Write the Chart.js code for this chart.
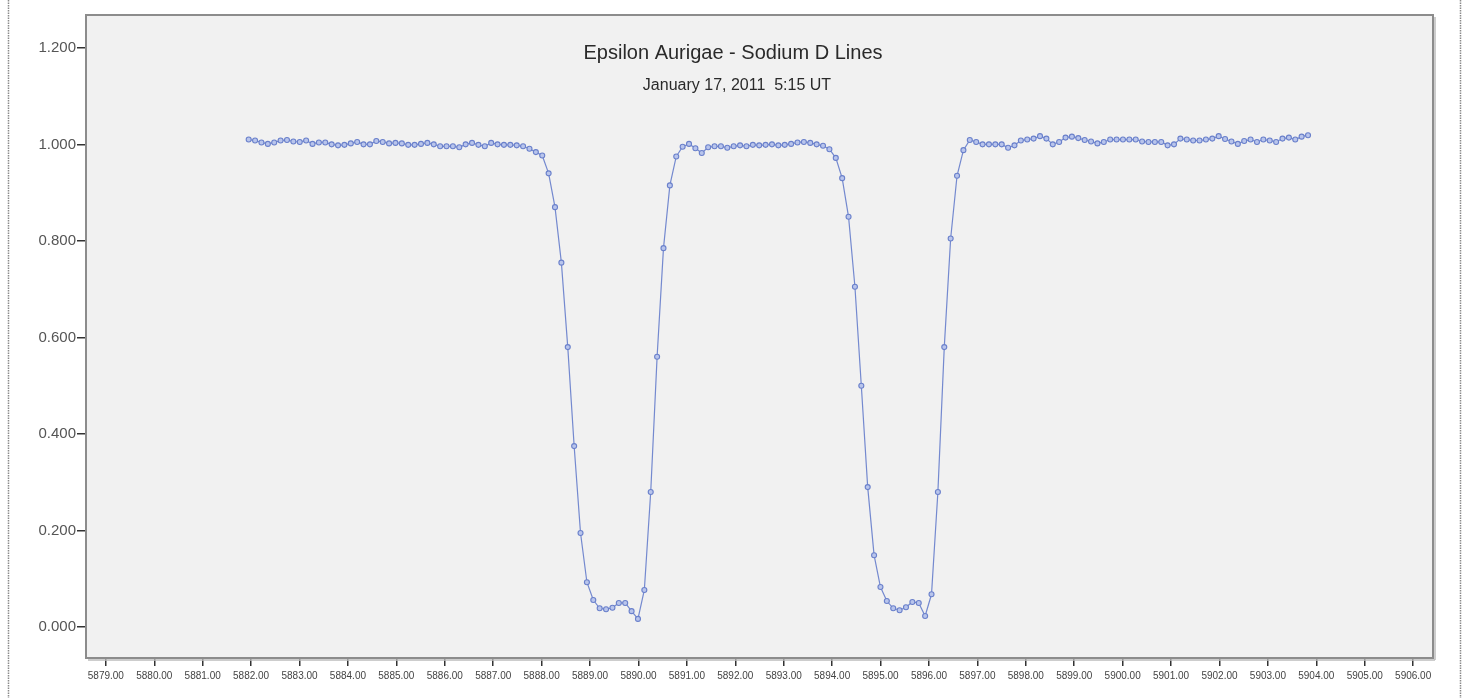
<!DOCTYPE html>
<html>
<head>
<meta charset="utf-8">
<title>Epsilon Aurigae - Sodium D Lines</title>
<script src="https://cdn.jsdelivr.net/npm/chart.js"></script>
<style>
  html, body { margin: 0; padding: 0; background: #fff; }
  #wrap { width: 1468px; height: 698px; position: relative; }
</style>
</head>
<body>
<div id="wrap"><canvas id="spectrumChart"></canvas></div>
<script>
// wavelength grid of the spectrum (Angstrom) - first sample and sample spacing
const waveStart = 5881.95;
const waveStep = 0.1318;

// normalised flux, one value per sample
const flux = [
    1.010, 1.008, 1.004, 1.001, 1.004, 1.008, 1.009, 1.006, 1.005, 1.008,
    1.001, 1.004, 1.004, 1.000, 0.998, 0.999, 1.002, 1.005, 1.000, 1.000,
    1.007, 1.005, 1.002, 1.003, 1.002, 0.999, 0.999, 1.001, 1.003, 1.000,
    0.996, 0.996, 0.996, 0.994, 1.000, 1.003, 0.999, 0.996, 1.003, 1.000,
    0.999, 0.999, 0.998, 0.996, 0.991, 0.984, 0.977, 0.940, 0.870, 0.755,
    0.580, 0.375, 0.195, 0.093, 0.056, 0.039, 0.037, 0.040, 0.050, 0.050,
    0.033, 0.017, 0.077, 0.280, 0.560, 0.785, 0.915, 0.975, 0.995, 1.001,
    0.992, 0.982, 0.994, 0.996, 0.996, 0.993, 0.996, 0.998, 0.996, 0.999,
    0.998, 0.999, 1.000, 0.998, 0.999, 1.001, 1.004, 1.005, 1.003, 1.000,
    0.997, 0.990, 0.972, 0.930, 0.850, 0.705, 0.500, 0.290, 0.149, 0.083,
    0.054, 0.039, 0.035, 0.041, 0.052, 0.050, 0.023, 0.068, 0.280, 0.580,
    0.805, 0.935, 0.988, 1.009, 1.005, 1.000, 1.000, 1.000, 1.000, 0.993,
    0.998, 1.008, 1.010, 1.012, 1.017, 1.012, 1.000, 1.005, 1.014, 1.016,
    1.013, 1.009, 1.006, 1.002, 1.005, 1.010, 1.010, 1.010, 1.010, 1.010,
    1.006, 1.005, 1.005, 1.005, 0.998, 1.000, 1.012, 1.010, 1.008, 1.008,
    1.010, 1.012, 1.017, 1.011, 1.006, 1.001, 1.007, 1.010, 1.005, 1.010,
    1.008, 1.005, 1.012, 1.014, 1.010, 1.016, 1.019
];

const titleText = 'Epsilon Aurigae - Sodium D Lines';
const subtitleText = 'January 17, 2011  5:15 UT';

// axis ranges
const xMin = 5878.59, xMax = 5906.41;
const yMin = -0.064, yMax = 1.268;

const points = flux.map((f, i) => ({ x: waveStart + i * waveStep, y: f }));

// grey plot background, frame, dotted page edges and the title text
const decorPlugin = {
    id: 'decor',
    beforeDraw(chart) {
        const { ctx, chartArea: a } = chart;
        ctx.save();
        ctx.fillStyle = '#f1f1f1';
        ctx.fillRect(a.left, a.top, a.right - a.left, a.bottom - a.top);

        ctx.strokeStyle = '#8a8a8a';
        ctx.lineWidth = 1.5;
        ctx.setLineDash([1.5, 1]);
        ctx.beginPath();
        ctx.moveTo(8.5, 0); ctx.lineTo(8.5, chart.height);
        ctx.moveTo(1460.5, 0); ctx.lineTo(1460.5, chart.height);
        ctx.stroke();
        ctx.setLineDash([]);

        ctx.fillStyle = '#2a2a2a';
        ctx.textAlign = 'center';
        ctx.textBaseline = 'middle';
        ctx.font = '20px "Liberation Sans", Arial, sans-serif';
        ctx.fillText(titleText, 733, 53);
        ctx.font = '16px "Liberation Sans", Arial, sans-serif';
        ctx.fillText(subtitleText, 737, 86);
        ctx.restore();
    },
    afterDraw(chart) {
        const { ctx, chartArea: a } = chart;
        ctx.save();
        ctx.strokeStyle = '#8c8c8c';
        ctx.lineWidth = 2;
        ctx.strokeRect(a.left, a.top, a.right - a.left, a.bottom - a.top);
        ctx.strokeStyle = '#bdbdbd';
        ctx.lineWidth = 1.5;
        ctx.beginPath();
        ctx.moveTo(a.right + 2, a.top + 2); ctx.lineTo(a.right + 2, a.bottom + 2);
        ctx.moveTo(a.left + 2, a.bottom + 2); ctx.lineTo(a.right + 2, a.bottom + 2);
        ctx.stroke();
        ctx.restore();
    }
};

new Chart(document.getElementById('spectrumChart').getContext('2d'), {
    type: 'line',
    data: {
        datasets: [{
            label: 'Flux',
            data: points,
            borderColor: '#7489cf',
            borderWidth: 1.2,
            pointRadius: 2.5,
            pointBorderWidth: 1.1,
            pointBorderColor: '#6a80cb',
            pointBackgroundColor: '#b9c5ec',
            tension: 0
        }]
    },
    options: {
        responsive: true,
        maintainAspectRatio: false,
        animation: false,
        layout: { padding: { left: 0, right: 35, top: 15, bottom: 0 } },
        plugins: {
            legend: { display: false },
            tooltip: { enabled: false },
            title: { display: false }
        },
        scales: {
            x: {
                type: 'linear',
                min: xMin,
                max: xMax,
                afterFit(scale) { scale.height = 40; },
                border: { display: false },
                grid: { drawOnChartArea: false, tickLength: 8, color: '#333', lineWidth: 1.5 },
                ticks: {
                    stepSize: 1,
                    includeBounds: false,
                    autoSkip: false,
                    maxRotation: 0,
                    padding: 4,
                    color: '#444',
                    font: { family: '"Liberation Sans", Arial, sans-serif', size: 10 },
                    callback: v => v.toFixed(2)
                }
            },
            y: {
                min: yMin,
                max: yMax,
                afterFit(scale) { scale.width = 86; },
                border: { display: false },
                grid: { drawOnChartArea: false, tickLength: 9, color: '#333', lineWidth: 1.5 },
                ticks: {
                    stepSize: 0.2,
                    includeBounds: false,
                    padding: 1,
                    color: '#555',
                    font: { family: '"Liberation Sans", Arial, sans-serif', size: 15 },
                    callback: v => v.toFixed(3)
                }
            }
        }
    },
    plugins: [decorPlugin]
});
</script>
</body>
</html>
